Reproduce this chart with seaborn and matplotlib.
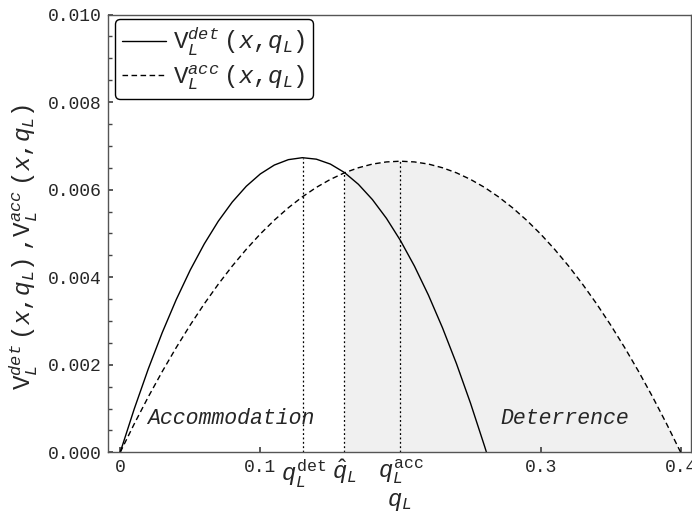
import numpy as np
import pandas as pd
import matplotlib
matplotlib.use("Agg")
import matplotlib.pyplot as plt
import seaborn as sns

# ---- data ----
q_det_curve = [0.0, 0.01, 0.02, 0.03, 0.04, 0.05, 0.06, 0.07, 0.08, 0.09, 0.10,
               0.11, 0.12, 0.13, 0.14, 0.15, 0.16, 0.17, 0.18, 0.19, 0.20, 0.21,
               0.22, 0.23, 0.24, 0.25, 0.26, 0.2614]
v_det = [0.0, 0.000990, 0.001902, 0.002735, 0.003489, 0.004165, 0.004761, 0.005279,
         0.005718, 0.006078, 0.006359, 0.006562, 0.006685, 0.006730, 0.006696,
         0.006584, 0.006392, 0.006122, 0.005773, 0.005345, 0.004838, 0.004253,
         0.003589, 0.002845, 0.002024, 0.001123, 0.000143, 0.0]

q_acc_curve = [0.0, 0.01, 0.02, 0.03, 0.04, 0.05, 0.06, 0.07, 0.08, 0.09, 0.10,
               0.11, 0.12, 0.13, 0.14, 0.15, 0.16, 0.17, 0.18, 0.19, 0.20, 0.21,
               0.22, 0.23, 0.24, 0.25, 0.26, 0.27, 0.28, 0.29, 0.30, 0.31, 0.32,
               0.33, 0.34, 0.35, 0.36, 0.37, 0.38, 0.39, 0.40]
v_acc = [0.0, 0.000648, 0.001264, 0.001845, 0.002394, 0.002909, 0.003392, 0.003840,
         0.004256, 0.004638, 0.004988, 0.005303, 0.005586, 0.005835, 0.006052,
         0.006234, 0.006384, 0.006500, 0.006584, 0.006633, 0.006650, 0.006633,
         0.006584, 0.006500, 0.006384, 0.006234, 0.006052, 0.005835, 0.005586,
         0.005303, 0.004988, 0.004638, 0.004256, 0.003840, 0.003392, 0.002909,
         0.002394, 0.001845, 0.001264, 0.000648, 0.0]

# special points: q_det*, q_hat, q_acc* and the curve heights there
marker_q = [0.1307, 0.16, 0.2]
marker_v = [0.00673, 0.00639, 0.00665]
marker_labels = [r"$q_L^{\mathrm{det}}$", r"$\hat{q}_L$", r"$q_L^{\mathrm{acc}}$"]
q_hat = 0.16

x_ticks = [0, 0.1, 0.3, 0.4]
x_tick_labels = ["0", "0.1", "0.3", "0.4"]
y_ticks = [0.0, 0.002, 0.004, 0.006, 0.008, 0.010]

region_labels = ["Accommodation", "Deterrence"]
region_q = [0.079, 0.3175]
region_v = [0.00078, 0.00078]

# ---- styling ----
sns.set_theme(style="ticks")
plt.rcParams["font.family"] = ["Liberation Mono", "DejaVu Sans Mono"]
plt.rcParams["mathtext.fontset"] = "custom"
plt.rcParams["mathtext.rm"] = "Liberation Mono"
plt.rcParams["mathtext.it"] = "Liberation Mono:italic"
plt.rcParams["mathtext.bf"] = "Liberation Mono:bold"

fig = plt.figure(figsize=(6.92, 5.19), dpi=100)
ax = fig.add_axes([0.1565, 0.1285, 0.998 - 0.1565, 0.972 - 0.1285])

df_det = pd.DataFrame({"q": q_det_curve, "v": v_det})
df_acc = pd.DataFrame({"q": q_acc_curve, "v": v_acc})

# shaded deterrence region under the acc curve from q_hat
qa = np.array(q_acc_curve)
va = np.array(v_acc)
mask = qa >= q_hat
ax.fill_between(qa[mask], 0, va[mask], color="#f0f0f0", lw=0, zorder=0)

lab_det = r"$\mathrm{V}_L^{det}\ \mathrm{(}x\mathrm{,}q_L\mathrm{)}$"
lab_acc = r"$\mathrm{V}_L^{acc}\ \mathrm{(}x\mathrm{,}q_L\mathrm{)}$"
sns.lineplot(data=df_det, x="q", y="v", ax=ax, color="black", lw=1.0,
             label=lab_det, sort=False)
sns.lineplot(data=df_acc, x="q", y="v", ax=ax, color="black", lw=1.0,
             linestyle=(0, (4, 2.5)), label=lab_acc, sort=False)

for mq, mv in zip(marker_q, marker_v):
    ax.plot([mq, mq], [0, mv], color="black", lw=0.9, linestyle=(0, (1.5, 2)), zorder=1)

for lab, mq in zip(marker_labels, marker_q):
    ax.text(mq, -0.012, lab, transform=ax.get_xaxis_transform(), ha="center",
            va="top", fontsize=17)

for lab, rq, rv in zip(region_labels, region_q, region_v):
    ax.text(rq, rv, lab, ha="center", va="center", fontsize=15.5, style="italic")

ax.set_xlim(-0.0085, 0.4071)
ax.set_ylim(0, 0.010)
ax.set_xticks(x_ticks)
ax.set_xticklabels(x_tick_labels)
ax.set_yticks(y_ticks)
ax.set_yticklabels([f"{v:.3f}" for v in y_ticks])
ax.set_yticks(np.arange(0, 0.0101, 0.0005), minor=True)
ax.tick_params(axis="both", which="both", direction="in", labelsize=13,
               color="#444444")
ax.tick_params(axis="both", which="major", length=3.5, pad=5)
ax.tick_params(axis="both", which="minor", length=3)
ax.tick_params(axis="x", pad=5)

for s in ax.spines.values():
    s.set_color("#555555")
    s.set_linewidth(1.0)

ax.set_xlabel(r"$q_L$", fontsize=17)
ax.xaxis.set_label_coords(0.5, -0.085)
ax.set_ylabel(r"$\mathrm{V}_L^{det}\ \mathrm{(}x\mathrm{,}q_L\mathrm{)}\ \mathrm{,}\mathrm{V}_L^{acc}\ \mathrm{(}x\mathrm{,}q_L\mathrm{)}$",
              fontsize=17.5)
ax.yaxis.set_label_coords(-0.118, 0.47)

leg = ax.legend(loc="upper left", fontsize=17.5, frameon=True, fancybox=True,
                handlelength=1.8, handletextpad=0.3, borderpad=0.3,
                labelspacing=0.2, borderaxespad=0,
                bbox_to_anchor=(0.011, 0.99))
leg.get_frame().set_edgecolor("black")
leg.get_frame().set_linewidth(1.0)
leg.get_frame().set_alpha(1)

fig.savefig("out.png", dpi=100)
